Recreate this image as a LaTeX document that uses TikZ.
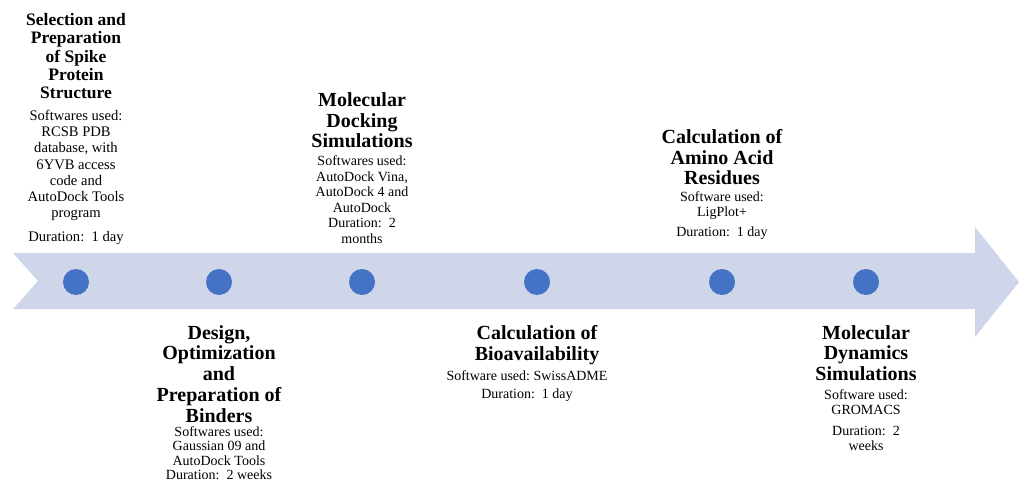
\documentclass[tikz,border=0pt]{standalone}
\usepackage{fontspec}
\setmainfont{Liberation Serif}
\usetikzlibrary{positioning}
\definecolor{bandblue}{HTML}{CFD6EA}
\definecolor{dotblue}{HTML}{4472C4}

\begin{document}
\frenchspacing
\begin{tikzpicture}[
    x=1pt, y=1pt,
    node distance=25pt,
    band/.style={fill=bandblue, draw=none},
    milestone/.style={circle, fill=dotblue, minimum size=26pt, inner sep=0pt},
    heading/.style={align=center, inner sep=0pt, font=\fontsize{20}{20.7}\selectfont\bfseries},
    details/.style={align=center, inner sep=0pt, font=\fontsize{14}{15.6}\selectfont}
]
\useasboundingbox (0,0) rectangle (1019,-484);

% timeline arrow
\fill[band] (13,-253) -- (975,-253) -- (975,-227) -- (1019,-282) -- (975,-337)
    -- (975,-309) -- (13,-309) -- (38,-281) -- cycle;

% milestones
\foreach \name/\x in {m1/76, m2/219, m3/362, m4/537, m5/722, m6/866}
    \node[milestone] (\name) at (\x,-282) {};

% steps above the timeline
\node[details, above=24pt of m1, font=\fontsize{14.6}{16.1}\selectfont] (body1) {Softwares used:\\RCSB PDB\\database, with\\6YVB access\\code and\\AutoDock Tools\\program\\[8pt]Duration:~ 1 day};
\node[heading, above=11pt of body1, font=\fontsize{17.5}{18.3}\selectfont\bfseries] (head1) {Selection and\\Preparation\\of Spike\\Protein\\Structure};

\node[details, above=25pt of m3] (body3) {Softwares used:\\AutoDock Vina,\\AutoDock 4 and\\AutoDock\\Duration:~ 2\\months};
\node[heading, above=7pt of body3] (head3) {Molecular\\Docking\\Simulations};

\node[details, above=29pt of m5] (body5) {Software used:\\LigPlot+\\[4pt]Duration:~ 1 day};
\node[heading, above=6pt of body5] (head5) {Calculation of\\Amino Acid\\Residues};

% steps below the timeline
\node[heading, below=30pt of m2] (head2) {Design,\\Optimization\\and\\Preparation of\\Binders};
\node[details, below=4pt of head2, font=\fontsize{14}{14.4}\selectfont] (body2) {Softwares used:\\Gaussian 09 and\\AutoDock Tools\\Duration:~ 2 weeks};

\node[heading, below=30pt of m4] (head4) {Calculation of\\Bioavailability};
\node[details, below=6pt of head4, xshift=-10pt] (body4) {Software used: SwissADME\\[2pt]Duration:~ 1 day};

\node[heading, below=30pt of m6] (head6) {Molecular\\Dynamics\\Simulations};
\node[details, below=8pt of head6] (body6) {Software used:\\GROMACS\\[5pt]Duration:~ 2\\weeks};

\end{tikzpicture}
\end{document}
